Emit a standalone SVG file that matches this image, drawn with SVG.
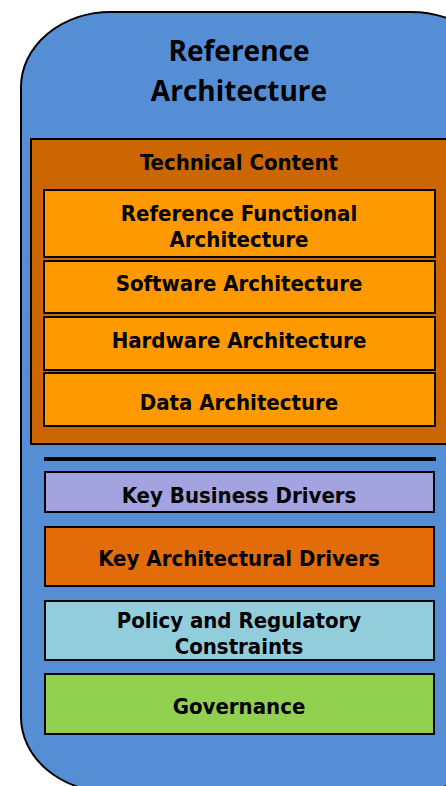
<svg xmlns="http://www.w3.org/2000/svg" width="446" height="786" viewBox="0 0 446 786">
<style>
.box{stroke:#000;stroke-width:2}
.t{font-family:"DejaVu Sans Condensed","DejaVu Sans",sans-serif;font-stretch:condensed;font-weight:bold;font-size:22px;text-anchor:middle;fill:#000}
.title{font-family:"Open Sans","Liberation Sans",sans-serif;font-weight:bold;font-size:28px;text-anchor:middle;fill:#000}
</style>
<g id="outer">
<rect x="21" y="12" width="480" height="780" rx="90" ry="75" fill="#558ED5" stroke="#000" stroke-width="2"/>
<text class="title" x="239" y="61">Reference</text>
<text class="title" x="239" y="101">Architecture</text>
</g>
<g id="technical-content">
<rect class="box" x="31" y="139" width="430" height="305" fill="#CC6600"/>
<text class="t" x="239" y="170">Technical Content</text>
</g>
<g id="rfa">
<rect class="box" x="44" y="190" width="391" height="67" fill="#FF9900"/>
<text class="t" x="239" y="221">Reference Functional</text>
<text class="t" x="239" y="247">Architecture</text>
</g>
<g id="software">
<rect class="box" x="44" y="261" width="391" height="52" fill="#FF9900"/>
<text class="t" x="239" y="291">Software Architecture</text>
</g>
<g id="hardware">
<rect class="box" x="44" y="317" width="391" height="53" fill="#FF9900"/>
<text class="t" x="239" y="348">Hardware Architecture</text>
</g>
<g id="data">
<rect class="box" x="44" y="373" width="391" height="53" fill="#FF9900"/>
<text class="t" x="239" y="410">Data Architecture</text>
</g>
<g id="connectors">
<line x1="44" y1="459" x2="436" y2="459" stroke="#000" stroke-width="4"/>
</g>
<g id="business">
<rect class="box" x="45" y="472" width="389" height="40" fill="#A3A3DF"/>
<text class="t" x="239" y="503">Key Business Drivers</text>
</g>
<g id="architectural">
<rect class="box" x="45" y="527" width="389" height="59" fill="#E36C0A"/>
<text class="t" x="239" y="566">Key Architectural Drivers</text>
</g>
<g id="policy">
<rect class="box" x="45" y="601" width="389" height="59" fill="#92CDDC"/>
<text class="t" x="239" y="628">Policy and Regulatory</text>
<text class="t" x="239" y="654">Constraints</text>
</g>
<g id="governance">
<rect class="box" x="45" y="674" width="389" height="60" fill="#92D050"/>
<text class="t" x="239" y="714">Governance</text>
</g>
</svg>
